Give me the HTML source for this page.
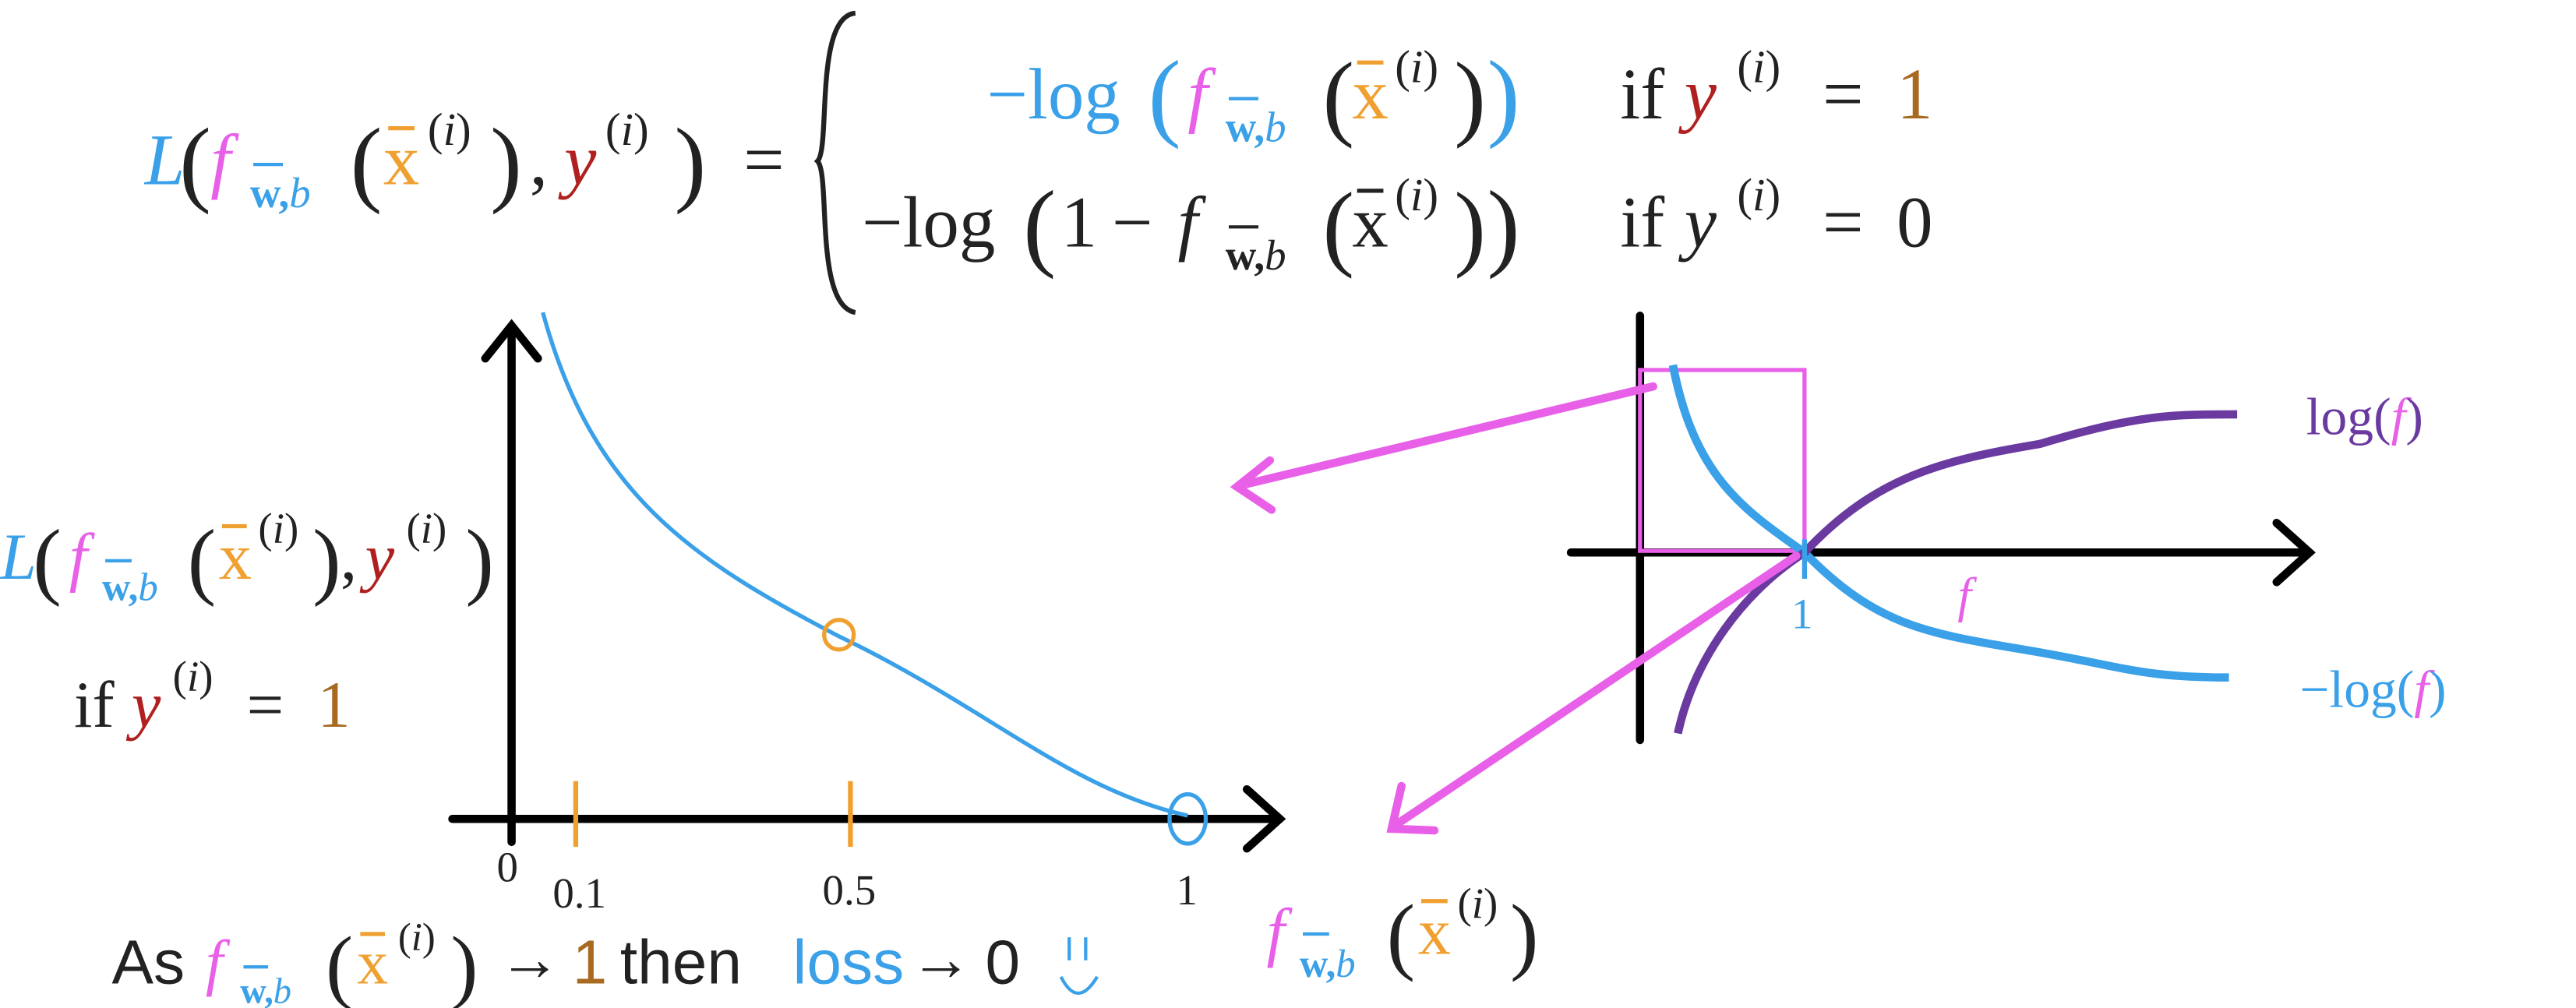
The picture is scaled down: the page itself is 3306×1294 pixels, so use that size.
<!DOCTYPE html>
<html><head><meta charset="utf-8"><style>
html,body{margin:0;padding:0;background:#fff;width:3306px;height:1294px;overflow:hidden}
svg{display:block}
text{font-family:"Liberation Serif",serif}
.s{font-family:"Liberation Sans",sans-serif}
</style></head><body>
<svg width="3306" height="1294" viewBox="0 0 1566 613" preserveAspectRatio="none">
<!-- Top equation -->
<g font-size="44" fill="#222">
<text x="88" y="112" fill="#3aa0e8" font-style="italic">L</text>
<text x="109" y="118" font-size="58">(</text>
<text x="128" y="112" fill="#e860e8" font-style="italic">f</text>
<text x="152" y="126" font-size="26" font-weight="bold" fill="#3aa0e8">w,<tspan font-style="italic" font-weight="normal">b</tspan></text>
<line x1="154" y1="100" x2="172" y2="100" stroke="#3aa0e8" stroke-width="2"/>
<text x="213" y="118" font-size="58">(</text>
<text x="233" y="112" fill="#f0a030">x</text>
<line x1="236" y1="78" x2="252" y2="78" stroke="#f0a030" stroke-width="2.5"/>
<text x="260" y="88" font-size="28">(<tspan font-style="italic">i</tspan>)</text>
<text x="298" y="118" font-size="58">)</text>
<text x="322" y="112">,</text>
<text x="343" y="112" fill="#b02020" font-style="italic">y</text>
<text x="368" y="88" font-size="28">(<tspan font-style="italic">i</tspan>)</text>
<text x="410" y="118" font-size="58">)</text>
<text x="452" y="112">=</text>
</g>
<path d="M520 8 C495 10 505 90 497 98 C505 106 495 186 520 190" fill="none" stroke="#222" stroke-width="3"/>
<!-- row1 -->
<g font-size="44" fill="#222">
<text x="600" y="72" fill="#3aa0e8">−log</text>
<text x="698" y="78" fill="#3aa0e8" font-size="60">(</text>
<text x="722" y="72" fill="#e860e8" font-style="italic">f</text>
<text x="745" y="86" font-size="26" font-weight="bold" fill="#3aa0e8">w,<tspan font-style="italic" font-weight="normal">b</tspan></text>
<line x1="747" y1="60" x2="765" y2="60" stroke="#3aa0e8" stroke-width="2"/>
<text x="804" y="78" font-size="58">(</text>
<text x="822" y="72" fill="#f0a030">x</text>
<line x1="825" y1="38" x2="841" y2="38" stroke="#f0a030" stroke-width="2.5"/>
<text x="848" y="50" font-size="28">(<tspan font-style="italic">i</tspan>)</text>
<text x="884" y="78" font-size="58">)</text>
<text x="904" y="78" fill="#3aa0e8" font-size="60">)</text>
<text x="985" y="72">if</text>
<text x="1024" y="72" fill="#b02020" font-style="italic">y</text>
<text x="1056" y="50" font-size="28">(<tspan font-style="italic">i</tspan>)</text>
<text x="1108" y="72">=</text>
<text x="1153" y="72" fill="#a86a20">1</text>
</g>
<!-- row2 -->
<g font-size="44" fill="#222">
<text x="524" y="150">−log</text>
<text x="622" y="157" font-size="60">(</text>
<text x="645" y="150">1</text>
<text x="676" y="150">−</text>
<text x="716" y="150" font-style="italic">f</text>
<text x="745" y="164" font-size="26" font-weight="bold">w,<tspan font-style="italic" font-weight="normal">b</tspan></text>
<line x1="747" y1="138" x2="765" y2="138" stroke="#222" stroke-width="2"/>
<text x="804" y="157" font-size="58">(</text>
<text x="822" y="150">x</text>
<line x1="825" y1="116" x2="841" y2="116" stroke="#222" stroke-width="2.5"/>
<text x="848" y="128" font-size="28">(<tspan font-style="italic">i</tspan>)</text>
<text x="884" y="157" font-size="58">)</text>
<text x="904" y="157" font-size="60">)</text>
<text x="985" y="150">if</text>
<text x="1024" y="150" font-style="italic">y</text>
<text x="1056" y="128" font-size="28">(<tspan font-style="italic">i</tspan>)</text>
<text x="1108" y="150">=</text>
<text x="1153" y="150">0</text>
</g>
<!-- left plot -->
<g stroke="#000" stroke-width="5" fill="none" stroke-linecap="round">
<line x1="311" y1="200" x2="311" y2="512"/>
<polyline points="295,218 311,198 327,218"/>
<line x1="275" y1="498" x2="775" y2="498"/>
<polyline points="758,480 778,498 758,516"/>
</g>
<g stroke="#f0a030" stroke-width="3"><line x1="350" y1="475" x2="350" y2="515"/><line x1="517" y1="475" x2="517" y2="515"/></g>
<path d="M330 190 C360 300 420 340 510 387 C600 430 650 480 722 496" fill="none" stroke="#3aa0e8" stroke-width="2.5"/>
<circle cx="510" cy="386" r="9" fill="none" stroke="#f0a030" stroke-width="2.5"/>
<ellipse cx="722" cy="498" rx="11" ry="15" fill="none" stroke="#3aa0e8" stroke-width="2.5"/>
<g font-size="26" fill="#222">
<text x="302" y="536">0</text><text x="336" y="552">0.1</text><text x="500" y="550">0.5</text><text x="715" y="550">1</text>
</g>
<!-- left label -->
<g font-size="40" fill="#222">
<text x="0" y="352" fill="#3aa0e8" font-style="italic">L</text>
<text x="20" y="358" font-size="52">(</text>
<text x="42" y="352" font-style="italic" fill="#e860e8">f</text>
<text x="62" y="365" font-size="24" font-weight="bold" fill="#3aa0e8">w,<tspan font-style="italic" font-weight="normal">b</tspan></text>
<line x1="64" y1="341" x2="80" y2="341" stroke="#3aa0e8" stroke-width="2"/>
<text x="114" y="358" font-size="52">(</text>
<text x="133" y="352" fill="#f0a030">x</text>
<line x1="135" y1="320" x2="150" y2="320" stroke="#f0a030" stroke-width="2.5"/>
<text x="157" y="330" font-size="26">(<tspan font-style="italic">i</tspan>)</text>
<text x="190" y="358" font-size="52">)</text>
<text x="207" y="352">,</text>
<text x="222" y="352" fill="#b02020" font-style="italic">y</text>
<text x="247" y="330" font-size="26">(<tspan font-style="italic">i</tspan>)</text>
<text x="283" y="358" font-size="52">)</text>
<text x="45" y="442">if</text>
<text x="80" y="442" fill="#b02020" font-style="italic">y</text>
<text x="105" y="420" font-size="26">(<tspan font-style="italic">i</tspan>)</text>
<text x="150" y="442">=</text>
<text x="193" y="442" fill="#a86a20">1</text>
</g>
<!-- bottom line -->
<g font-size="38" fill="#222">
<text class="s" x="68" y="598">As</text>
<text x="125" y="598" font-style="italic" fill="#e860e8">f</text>
<text x="146" y="610" font-size="22" font-weight="bold" fill="#3aa0e8">w,<tspan font-style="italic" font-weight="normal">b</tspan></text>
<line x1="148" y1="588" x2="163" y2="588" stroke="#3aa0e8" stroke-width="2"/>
<text x="198" y="604" font-size="50">(</text>
<text x="217" y="598" fill="#f0a030">x</text>
<line x1="219" y1="568" x2="234" y2="568" stroke="#f0a030" stroke-width="2.5"/>
<text x="242" y="578" font-size="24">(<tspan font-style="italic">i</tspan>)</text>
<text x="274" y="604" font-size="50">)</text>
<text x="303" y="596">→</text>
<text class="s" x="348" y="598" fill="#a86a20">1</text>
<text class="s" x="377" y="598">then</text>
<text class="s" x="482" y="598" fill="#3aa0e8">loss</text>
<text x="553" y="596">→</text>
<text class="s" x="599" y="598">0</text>
</g>
<path d="M650 570 v14 M660 570 v14 M645 594 q10 20 22 0" stroke="#3aa0e8" stroke-width="2" fill="none"/>
<!-- right plot -->
<g stroke="#000" stroke-width="5" fill="none" stroke-linecap="round">
<line x1="997" y1="192" x2="997" y2="450"/>
<line x1="955" y1="336" x2="1402" y2="336"/>
<polyline points="1384,318 1404,336 1384,354"/>
</g>
<rect x="997" y="225" width="100" height="110" fill="none" stroke="#e860e8" stroke-width="2.5"/>
<path d="M1017 222 C1030 290 1060 310 1097 336 C1140 380 1170 385 1230 395 C1290 405 1300 412 1355 412" fill="none" stroke="#3aa0e8" stroke-width="5"/>
<path d="M1020 446 C1030 400 1060 360 1097 336 C1140 290 1180 280 1240 270 C1300 252 1320 252 1360 252" fill="none" stroke="#6a3aa0" stroke-width="5"/>
<line x1="1097" y1="328" x2="1097" y2="352" stroke="#3aa0e8" stroke-width="3"/>
<text x="1089" y="382" font-size="26" fill="#3aa0e8">1</text>
<text x="1190" y="372" font-size="30" font-style="italic" fill="#e860e8">f</text>
<text x="1402" y="264" font-size="32" fill="#6a3aa0">log(<tspan fill="#e860e8" font-style="italic">f</tspan>)</text>
<text x="1398" y="430" font-size="32" fill="#3aa0e8">−log(<tspan fill="#e860e8" font-style="italic">f</tspan>)</text>
<!-- arrows -->
<g stroke="#e860e8" stroke-width="5" fill="none" stroke-linecap="round">
<line x1="1005" y1="235" x2="755" y2="295"/>
<polyline points="772,280 752,296 773,310"/>
<line x1="1092" y1="338" x2="848" y2="502"/>
<polyline points="852,478 846,504 872,505"/>
</g>
<g font-size="40" fill="#222">
<text x="770" y="580" font-style="italic" fill="#e860e8">f</text>
<text x="790" y="594" font-size="24" font-weight="bold" fill="#3aa0e8">w,<tspan font-style="italic" font-weight="normal">b</tspan></text>
<line x1="792" y1="568" x2="808" y2="568" stroke="#3aa0e8" stroke-width="2"/>
<text x="843" y="586" font-size="52">(</text>
<text x="862" y="580" fill="#f0a030">x</text>
<line x1="864" y1="548" x2="880" y2="548" stroke="#f0a030" stroke-width="2.5"/>
<text x="886" y="558" font-size="26">(<tspan font-style="italic">i</tspan>)</text>
<text x="918" y="586" font-size="52">)</text>
</g>
</svg>
</body></html>
